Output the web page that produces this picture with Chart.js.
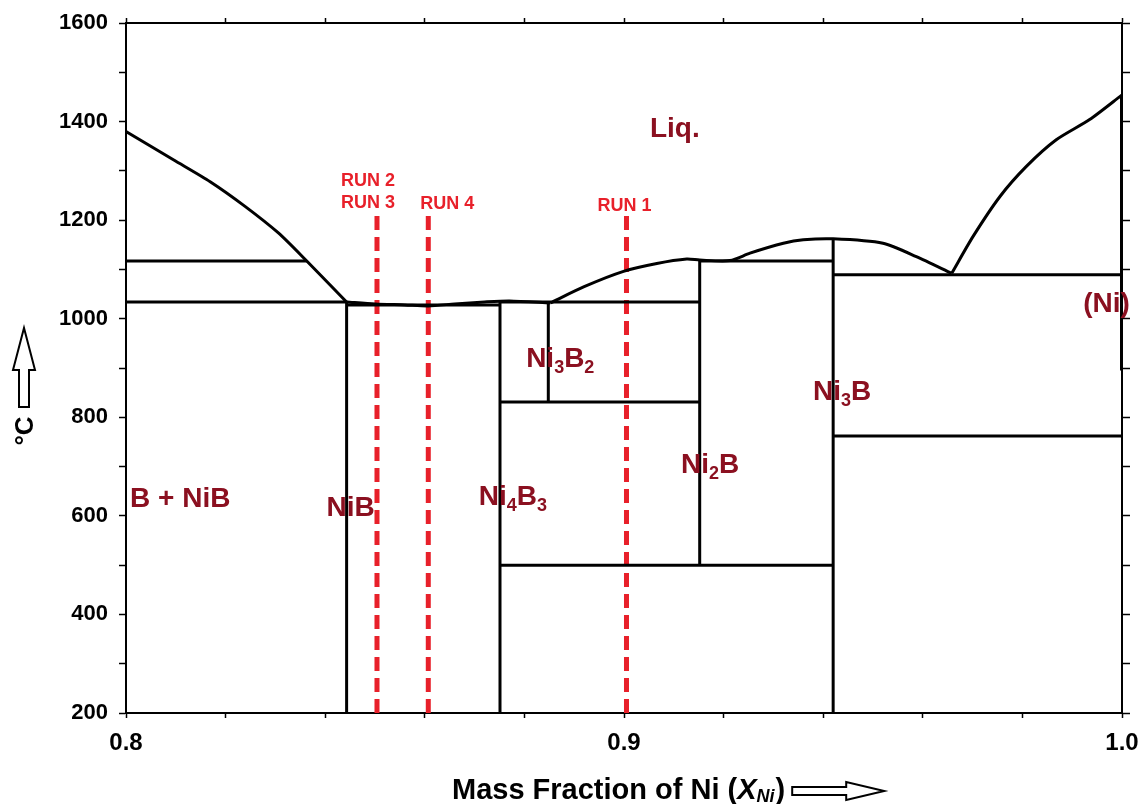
<!DOCTYPE html>
<html>
<head>
<meta charset="utf-8">
<script src="https://cdn.jsdelivr.net/npm/chart.js@4.4.1/dist/chart.umd.min.js"></script>
<style>
body{margin:0;background:#fff;}
#wrap{width:1143px;height:804px;}
</style>
</head>
<body>
<div id="wrap"><canvas id="myChart" width="1143" height="804"></canvas></div>
<script>
"use strict";

// liquidus curves (mass fraction Ni, temperature in C)
const liqLeftX = [0.8, 0.8096, 0.8169, 0.8239, 0.8306, 0.8363, 0.8443];
const liqLeftT = [1380, 1322, 1278, 1228, 1174, 1117, 1034];

const liqMidX = [0.8443, 0.8500, 0.8560, 0.8607, 0.8660, 0.8720, 0.8770, 0.8852];
const liqMidT = [1034, 1030, 1028, 1026, 1030, 1034, 1036, 1032];

const liqUpX = [0.8852, 0.8920, 0.8999, 0.9066, 0.9126, 0.9152, 0.9213, 0.9253, 0.9320, 0.9360, 0.9420, 0.9520, 0.9587, 0.9658];
const liqUpT = [1032, 1065, 1096, 1112, 1121, 1119, 1118, 1133, 1153, 1160, 1162, 1153, 1126, 1092];

const liqNiX = [0.9658, 0.9701, 0.9755, 0.9808, 0.9868, 0.9935, 1.0];
const liqNiT = [1092, 1167, 1248, 1309, 1363, 1404, 1454];

// straight phase boundaries: [x1, T1, x2, T2]
const boundaries = [
    [0.8, 1117, 0.8363, 1117],
    [0.8, 1034, 0.8443, 1034],
    [0.8443, 200, 0.8443, 1034],
    [0.8443, 1028, 0.8751, 1028],
    [0.8751, 200, 0.8751, 1034],
    [0.8751, 1034, 0.9152, 1034],
    [0.8848, 1034, 0.8848, 831],
    [0.8751, 831, 0.9152, 831],
    [0.8751, 500, 0.9420, 500],
    [0.9152, 500, 0.9152, 1119],
    [0.9152, 1117, 0.9420, 1117],
    [0.9420, 200, 0.9420, 1162],
    [0.9420, 1089, 1.0, 1089],
    [0.9420, 762, 1.0, 762]
];
const niSolvus = [1.0, 895, 1.0, 1454];

// experimental runs
const runNames = [["RUN 2", "RUN 3"], ["RUN 4"], ["RUN 1"]];
const runX = [0.8504, 0.8607, 0.9005];
const runTop = [1214, 1212, 1209];

// phase labels: text parts ("_" prefix = subscript), anchor x, baseline T
const phaseText = [
    ["Liq."], ["B + NiB"], ["NiB"], ["Ni", "_4", "B", "_3"], ["Ni", "_3", "B", "_2"],
    ["Ni", "_2", "B"], ["Ni", "_3", "B"], ["(Ni)"]
];
const phaseX = [0.9102, 0.8109, 0.8451, 0.8777, 0.8872, 0.9173, 0.9438, 0.9969];
const phaseT = [1368, 618, 600, 622, 902, 687, 835, 1014];

const FONT = "'Liberation Sans', Arial, sans-serif";
const LABEL_RED = "#8b1020";
const RUN_RED = "#e8202a";

function toPts(xs, ts) {
    return xs.map(function (x, i) { return {x: x, y: ts[i]}; });
}

let datasets = [];
[[liqLeftX, liqLeftT], [liqMidX, liqMidT], [liqUpX, liqUpT], [liqNiX, liqNiT]].forEach(function (c) {
    datasets.push({data: toPts(c[0], c[1]), borderColor: "#000", borderWidth: 3, tension: 0.25});
});
boundaries.forEach(function (b) {
    datasets.push({data: [{x: b[0], y: b[1]}, {x: b[2], y: b[3]}], borderColor: "#000", borderWidth: 3});
});
datasets.push({data: [{x: niSolvus[0], y: niSolvus[1]}, {x: niSolvus[2], y: niSolvus[3]}], borderColor: "#000", borderWidth: 4});
runX.forEach(function (x, i) {
    datasets.push({data: [{x: x, y: 200}, {x: x, y: runTop[i]}], borderColor: RUN_RED, borderWidth: 5, borderDash: [14, 7]});
});
datasets.forEach(function (d) {
    d.showLine = true;
    d.pointRadius = 0;
    d.fill = false;
    if (d.tension === undefined) d.tension = 0;
});

function drawParts(ctx, parts, cx, baseY, size, color) {
    let subSize = Math.round(size * 0.64);
    let total = 0;
    parts.forEach(function (p) {
        let sub = p.charAt(0) === "_";
        ctx.font = "bold " + (sub ? subSize : size) + "px " + FONT;
        total += ctx.measureText(sub ? p.slice(1) : p).width;
    });
    let x = cx - total / 2;
    ctx.fillStyle = color;
    ctx.textAlign = "left";
    ctx.textBaseline = "alphabetic";
    parts.forEach(function (p) {
        let sub = p.charAt(0) === "_";
        let t = sub ? p.slice(1) : p;
        ctx.font = "bold " + (sub ? subSize : size) + "px " + FONT;
        ctx.fillText(t, x, baseY + (sub ? size * 0.2 : 0));
        x += ctx.measureText(t).width;
    });
}

const runShift = [-9, 19, -2];

const labelPlugin = {
    id: "phaseLabels",
    afterDatasetsDraw: function (chart) {
        let ctx = chart.ctx, xs = chart.scales.x, ys = chart.scales.y;
        ctx.save();
        phaseText.forEach(function (parts, i) {
            drawParts(ctx, parts, xs.getPixelForValue(phaseX[i]), ys.getPixelForValue(phaseT[i]), 28, LABEL_RED);
        });
        runNames.forEach(function (lines, i) {
            let px = xs.getPixelForValue(runX[i]) + runShift[i];
            let base = ys.getPixelForValue(runTop[i]) - 5;
            for (let k = lines.length - 1; k >= 0; k--) {
                drawParts(ctx, [lines[k]], px, base - (lines.length - 1 - k) * 22, 18, RUN_RED);
            }
        });
        ctx.restore();
    },
    afterDraw: function (chart) {
        let ctx = chart.ctx, area = chart.chartArea;
        ctx.save();
        // x title
        let x = area.left + 326, base = 799;
        ctx.fillStyle = "#000";
        ctx.textBaseline = "alphabetic";
        ctx.textAlign = "left";
        ctx.font = "bold 29px " + FONT;
        ctx.fillText("Mass Fraction of Ni (", x, base);
        x += ctx.measureText("Mass Fraction of Ni (").width;
        ctx.font = "italic bold 29px " + FONT;
        ctx.fillText("X", x, base);
        x += ctx.measureText("X").width;
        ctx.font = "italic bold 18px " + FONT;
        ctx.fillText("Ni", x, base + 3);
        x += ctx.measureText("Ni").width + 1;
        ctx.font = "bold 29px " + FONT;
        ctx.fillText(")", x, base);
        x += ctx.measureText(")").width + 7;
        // right arrow
        ctx.lineWidth = 2;
        ctx.strokeStyle = "#000";
        ctx.fillStyle = "#fff";
        let ay = 791;
        ctx.beginPath();
        ctx.moveTo(x, ay - 4);
        ctx.lineTo(x + 54, ay - 4);
        ctx.lineTo(x + 54, ay - 9);
        ctx.lineTo(x + 92, ay);
        ctx.lineTo(x + 54, ay + 9);
        ctx.lineTo(x + 54, ay + 4);
        ctx.lineTo(x, ay + 4);
        ctx.closePath();
        ctx.fill();
        ctx.stroke();
        // y title
        ctx.save();
        ctx.translate(26, 431);
        ctx.rotate(-Math.PI / 2);
        ctx.fillStyle = "#000";
        ctx.textAlign = "center";
        ctx.textBaseline = "middle";
        ctx.font = "bold 26px " + FONT;
        ctx.fillText("\u00B0C", 0, 0);
        ctx.restore();
        // up arrow
        ctx.fillStyle = "#fff";
        ctx.beginPath();
        ctx.moveTo(19, 407);
        ctx.lineTo(19, 370);
        ctx.lineTo(13, 370);
        ctx.lineTo(24, 328);
        ctx.lineTo(35, 370);
        ctx.lineTo(29, 370);
        ctx.lineTo(29, 407);
        ctx.closePath();
        ctx.fill();
        ctx.stroke();
        ctx.restore();
    }
};

function xLabel(v) {
    let r = Math.round(v * 10);
    return Math.abs(v * 10 - r) < 1e-6 ? (r / 10).toFixed(1) : "";
}
function yLabel(v) {
    return v % 200 === 0 ? String(v) : "";
}
function noPadding(s) {
    s.paddingLeft = 0;
    s.paddingRight = 0;
    s.paddingTop = 0;
    s.paddingBottom = 0;
}

const border = {display: true, color: "#000", width: 2};

let myChart = new Chart(document.getElementById("myChart"), {
    type: "scatter",
    data: {datasets: datasets},
    options: {
        responsive: false,
        devicePixelRatio: 1,
        animation: false,
        layout: {padding: 0},
        plugins: {legend: {display: false}, tooltip: {enabled: false}},
        scales: {
            x: {
                type: "linear", position: "bottom", min: 0.8, max: 1.0,
                ticks: {stepSize: 0.02, autoSkip: false, maxRotation: 0, callback: xLabel,
                    font: {family: FONT, size: 24, weight: "bold"}, color: "#000", padding: 11},
                grid: {drawOnChartArea: false, tickLength: 5, tickWidth: 1.5, tickColor: "#000"},
                border: border,
                afterFit: function (s) { s.height = 91; noPadding(s); }
            },
            x2: {
                type: "linear", position: "top", min: 0.8, max: 1.0,
                ticks: {stepSize: 0.02, display: false},
                grid: {drawOnChartArea: false, tickLength: 5, tickWidth: 1.5, tickColor: "#000"},
                border: border,
                afterFit: function (s) { s.height = 23; noPadding(s); }
            },
            y: {
                type: "linear", position: "left", min: 200, max: 1600,
                ticks: {stepSize: 100, autoSkip: false, callback: yLabel,
                    font: {family: FONT, size: 22, weight: "bold"}, color: "#000", padding: 11},
                grid: {drawOnChartArea: false, tickLength: 7, tickWidth: 1.5, tickColor: "#000"},
                border: border,
                afterFit: function (s) { s.width = 126; noPadding(s); }
            },
            y2: {
                type: "linear", position: "right", min: 200, max: 1600,
                ticks: {stepSize: 100, display: false},
                grid: {drawOnChartArea: false, tickLength: 8, tickWidth: 1.5, tickColor: "#000"},
                border: border,
                afterFit: function (s) { s.width = 21; noPadding(s); }
            }
        }
    },
    plugins: [labelPlugin]
});
</script>
</body>
</html>
